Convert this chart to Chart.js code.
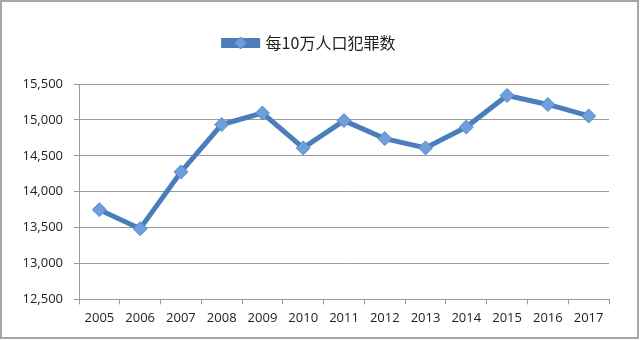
<!DOCTYPE html>
<html>
<head>
<meta charset="utf-8">
<script src="https://cdn.jsdelivr.net/npm/chart.js@4"></script>
<style>
  html, body { margin: 0; padding: 0; background: #fff; }
  #wrap { width: 640px; height: 340px; }
</style>
</head>
<body>
<div id="wrap"><canvas id="crime"></canvas></div>
<script>
var years = ['2005', '2006', '2007', '2008', '2009', '2010', '2011', '2012', '2013', '2014', '2015', '2016', '2017'];
var crimeRate = [13750, 13485, 14275, 14935, 15095, 14610, 14990, 14740, 14610, 14900, 15340, 15215, 15055];
var yTicks = [12500, 13000, 13500, 14000, 14500, 15000, 15500];

var lineColor = '#4a7ebb';
var markerColor = '#6f9edc';

// gray frame round the whole picture, plus the diamond on the legend line
var extras = {
    id: 'extras',
    beforeInit: function(chart) {
        var fit = chart.legend.fit;
        chart.legend.fit = function() {
            fit.bind(chart.legend)();
            this.height += 23;
        };
    },
    afterDraw: function(chart) {
        var ctx = chart.ctx;
        ctx.save();
        ctx.strokeStyle = '#a6a6a6';
        ctx.lineWidth = 2;
        ctx.strokeRect(1, 1, 637, 337);
        var box = chart.legend.legendHitBoxes[0];
        if (box) {
            var cx = box.left + 17, cy = box.top + box.height / 2;
            ctx.fillStyle = markerColor;
            ctx.strokeStyle = '#5a88c6';
            ctx.lineWidth = 1;
            ctx.beginPath();
            ctx.moveTo(cx, cy - 6);
            ctx.lineTo(cx + 6, cy);
            ctx.lineTo(cx, cy + 6);
            ctx.lineTo(cx - 6, cy);
            ctx.closePath();
            ctx.fill();
            ctx.stroke();
        }
        ctx.restore();
    }
};

var el = document.getElementById('crime');
new Chart(el, {
    type: 'line',
    data: {
        labels: years,
        datasets: [{
            label: '每10万人口犯罪数',
            data: crimeRate,
            fill: false,
            borderColor: lineColor,
            backgroundColor: lineColor,
            borderWidth: 5,
            tension: 0,
            pointStyle: 'rectRot',
            pointRadius: 7,
            pointBackgroundColor: markerColor,
            pointBorderColor: '#5a88c6',
            pointBorderWidth: 1
        }]
    },
    options: {
        responsive: true,
        maintainAspectRatio: false,
        animation: false,
        layout: { padding: { left: 10, right: 31, top: 33, bottom: 8 } },
        plugins: {
            legend: {
                display: true,
                labels: {
                    boxWidth: 34,
                    boxHeight: 5,
                    padding: 2,
                    color: '#222',
                    font: { family: '"Noto Sans CJK SC", sans-serif', size: 16 }
                },
                onClick: null
            },
            tooltip: { enabled: false }
        },
        scales: {
            x: {
                offset: true,
                grid: {
                    display: true,
                    drawOnChartArea: false,
                    drawTicks: true,
                    tickLength: 5,
                    offset: true,
                    color: '#999'
                },
                border: { color: '#999', width: 1 },
                ticks: {
                    color: '#222',
                    padding: 6,
                    maxRotation: 0,
                    font: { family: '"Open Sans", sans-serif', size: 13 }
                }
            },
            y: {
                min: 12500,
                max: 15500,
                afterBuildTicks: function(scale) {
                    scale.ticks = yTicks.map(function(v) { return { value: v }; });
                },
                afterFit: function(scale) { scale.width = 69; },
                grid: { color: '#999', tickLength: 5 },
                border: { color: '#999', width: 1 },
                ticks: {
                    color: '#222',
                    padding: 11,
                    font: { family: '"Open Sans", sans-serif', size: 13 },
                    callback: function(v) { return v.toLocaleString('en-US'); }
                }
            }
        }
    },
    plugins: [extras]
});
</script>
</body>
</html>
